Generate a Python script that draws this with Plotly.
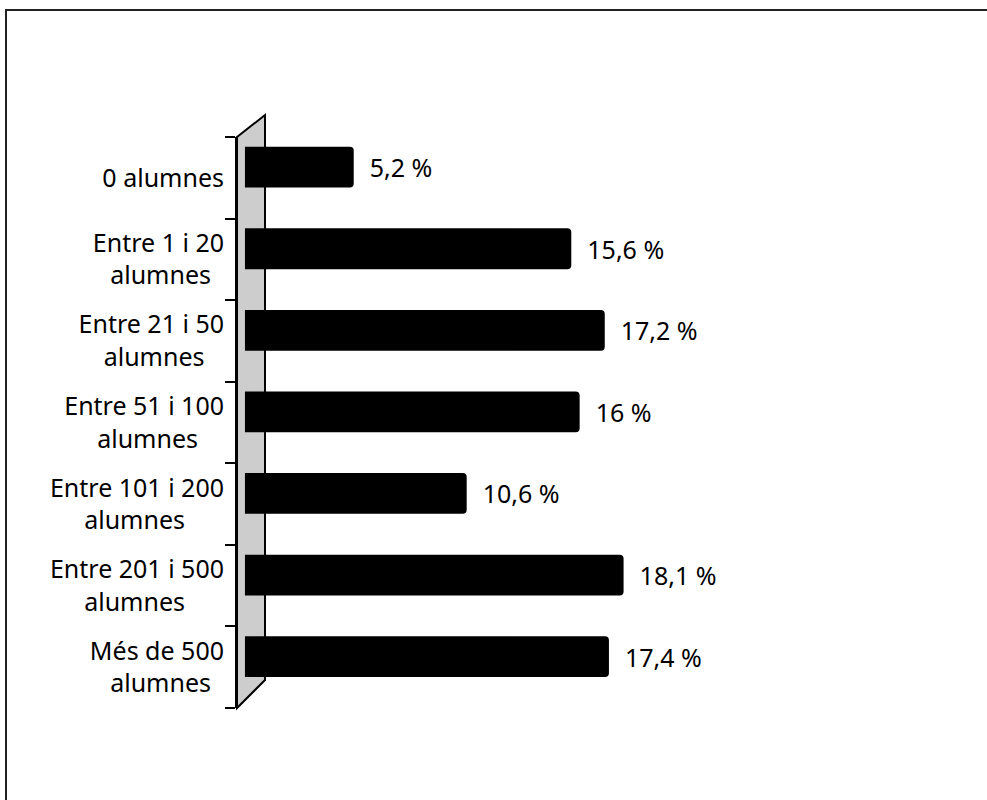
import plotly.graph_objects as go

# data
CATEGORIES = [
    "0 alumnes",
    "Entre 1 i 20<br>alumnes",
    "Entre 21 i 50<br>alumnes",
    "Entre 51 i 100<br>alumnes",
    "Entre 101 i 200<br>alumnes",
    "Entre 201 i 500<br>alumnes",
    "Més de 500<br>alumnes",
]
PERCENTAGES = [5.2, 15.6, 17.2, 16, 10.6, 18.1, 17.4]

# trailing spaces on the second line so both lines look centred
LABEL_PAD = [0, 2, 3, 4, 6, 6, 2]

FONT = "Noto Sans, DejaVu Sans, Arial, sans-serif"
W, H = 987, 800
# plot area in pixels
PL, PR, PT, PB = 237, 747, 137, 708


def px_x(px):
    return (px - PL) / (PR - PL)


def px_y(py):
    return (PB - py) / (PB - PT)


def path(points):
    return "M " + " L ".join(f"{px_x(x):.4f},{px_y(y):.4f}" for x, y in points) + " Z"


labels = ["\u00a0\u00a0" + f"{v:g}".replace(".", ",") + " %" for v in PERCENTAGES]
tick_text = [c + "\u00a0" * n for c, n in zip(CATEGORIES, LABEL_PAD)]

fig = go.Figure(
    go.Bar(
        x=PERCENTAGES,
        y=CATEGORIES,
        orientation="h",
        width=0.5,
        offset=-0.38,
        marker=dict(color="#000000", line=dict(width=0), cornerradius=4),
        text=labels,
        textposition="outside",
        constraintext="none",
        cliponaxis=False,
        textfont=dict(family=FONT, size=25, color="#000000"),
        hovertemplate="%{y}<br>%{x} %<extra></extra>",
    )
)

# 3D side wall behind the category axis
wall = [(237, 137), (265, 115), (265, 680), (237, 708)]
shapes = [
    dict(
        type="path",
        path=path(wall),
        xref="paper",
        yref="paper",
        fillcolor="#cdcdcd",
        line=dict(color="#000000", width=2),
        layer="below",
    ),
    # scanned frame: top and left edges
    dict(type="line", xref="paper", yref="paper",
         x0=px_x(5), x1=px_x(987), y0=px_y(10), y1=px_y(10),
         line=dict(color="#222222", width=2)),
    dict(type="line", xref="paper", yref="paper",
         x0=px_x(6), x1=px_x(6), y0=px_y(10), y1=px_y(800),
         line=dict(color="#222222", width=2)),
]

fig.update_layout(
    width=W,
    height=H,
    template="plotly_white",
    plot_bgcolor="#FFFFFF",
    paper_bgcolor="#FFFFFF",
    margin=dict(l=PL, r=W - PR, t=PT, b=H - PB, autoexpand=False),
    showlegend=False,
    font=dict(family=FONT, size=25, color="#000000"),
    shapes=shapes,
)
fig.update_xaxes(
    range=[-0.38, 24.0],
    showgrid=False,
    zeroline=False,
    showline=False,
    showticklabels=False,
    ticks="",
)
fig.update_yaxes(
    categoryorder="array",
    categoryarray=CATEGORIES,
    tickmode="array",
    tickvals=CATEGORIES,
    ticktext=tick_text,
    autorange="reversed",
    showgrid=False,
    zeroline=False,
    showline=True,
    linecolor="#000000",
    linewidth=2,
    ticks="outside",
    tickson="boundaries",
    ticklen=10,
    tickwidth=2,
    tickcolor="#000000",
    ticklabelstandoff=6,
    tickfont=dict(family=FONT, size=25, color="#000000"),
)

fig.write_html(
    "out.html",
    config={"displayModeBar": False},
    post_script="document.body.style.margin='0';document.body.style.overflow='hidden';",
)
